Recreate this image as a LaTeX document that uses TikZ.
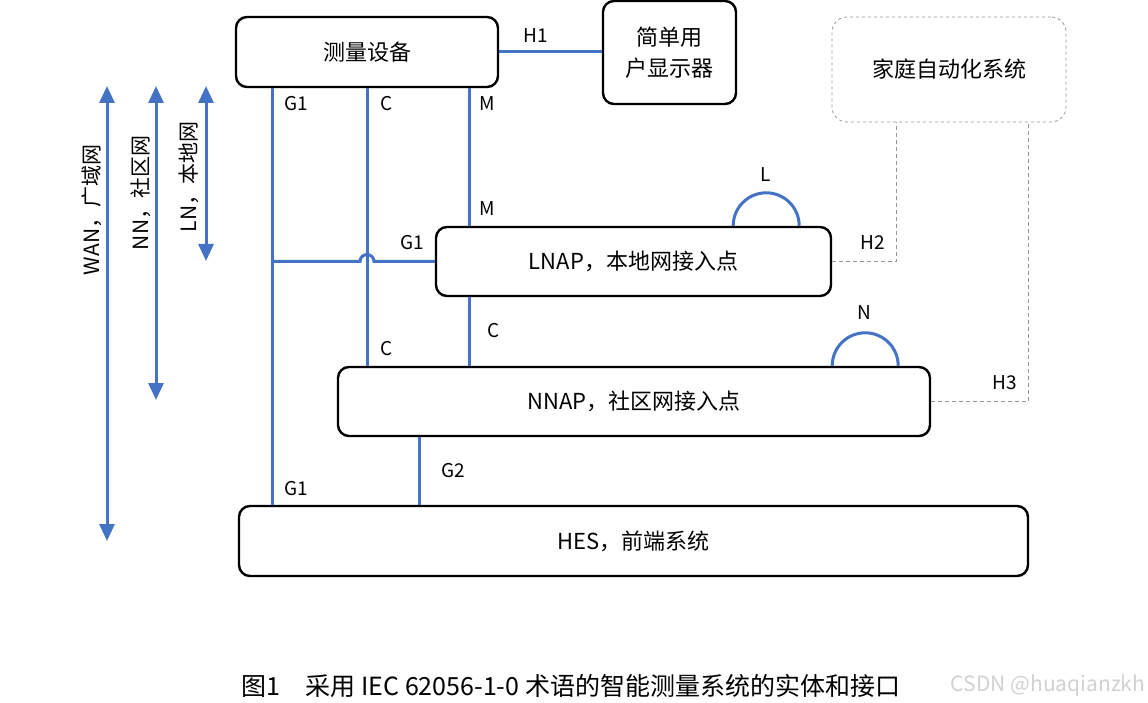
\documentclass[tikz,border=0pt]{standalone}
\usepackage{fontspec}
\setmainfont{Noto Sans CJK SC}
\usetikzlibrary{arrows.meta}
\definecolor{linkcol}{RGB}{68,114,196}
\definecolor{dashcol}{RGB}{150,150,155}

\begin{document}
\begin{tikzpicture}[x=1pt,y=1pt,
  box/.style={draw,line width=2.4pt,rounded corners=11pt,inner sep=0pt,align=center,font=\fontsize{22}{31}\selectfont},
  homebox/.style={draw=dashcol,dashed,line width=0.8pt,rounded corners=15pt,inner sep=0pt,font=\fontsize{22}{30}\selectfont},
  link/.style={linkcol,line width=3pt},
  hlink/.style={dashcol,line width=0.8pt,dash pattern=on 4pt off 3pt},
  span/.style={linkcol,line width=3pt,{Triangle[length=17pt,width=15pt]}-{Triangle[length=17pt,width=15pt]}},
  lbl/.style={font=\fontsize{19}{22}\selectfont},
  net/.style={font=\fontsize{21}{24}\selectfont,rotate=90}]
\useasboundingbox (0,0) rectangle (1148,-703);
% boxes
\node[box,minimum width=262pt,minimum height=70pt] (meter) at (367,-52) {测量设备};
\node[box,minimum width=133pt,minimum height=103pt] (disp) at (669.5,-52.5) {简单用\\户显示器};
\node[homebox,minimum width=234pt,minimum height=105pt] (home) at (949,-69.5) {家庭自动化系统};
\node[box,minimum width=395pt,minimum height=69pt] (lnap) at (633.5,-261.5) {LNAP，本地网接入点};
\node[box,minimum width=592pt,minimum height=69pt] (nnap) at (634,-401.5) {NNAP，社区网接入点};
\node[box,minimum width=789pt,minimum height=70pt] (hes) at (633.5,-541) {HES，前端系统};
% line positions
\coordinate (gx) at (272,0);
\coordinate (mx) at (469,0);
\coordinate (g2x) at (419,0);
% interfaces
\draw[link] (meter.east) -- (meter.east -| disp.west);
\draw[link] (meter.south -| gx) -- (hes.north -| gx);
\draw[link] (meter.south) -- (nnap.north -| meter.south);
\draw[link] (meter.south -| mx) -- (lnap.north -| mx);
\draw[link] (lnap.south -| mx) -- (nnap.north -| mx);
\draw[link] (gx |- lnap.west) -- ([xshift=-7pt]meter.south |- lnap.west) arc[start angle=180,end angle=0,radius=7] -- (lnap.west);
\draw[link] (nnap.south -| g2x) -- (hes.north -| g2x);
\draw[link] ([xshift=-99pt]lnap.north east) arc[start angle=180,end angle=0,radius=33];
\draw[link] ([xshift=-99pt]nnap.north east) arc[start angle=180,end angle=0,radius=33];
\draw[hlink] (lnap.east) -| ([xshift=65pt]home.south west);
\draw[hlink] (nnap.east) -| ([xshift=-38pt]home.south east);
% labels
\node[lbl] (lh1) at (536,-36) {H1};
\node[lbl] (lg1a) at (296,-104) {G1};
\node[lbl] (lca) at (387,-104) {C};
\node[lbl] (lma) at (487,-104) {M};
\node[lbl] (lmb) at (487,-209) {M};
\node[lbl] (lg1b) at (412,-243) {G1};
\node[lbl] (ll) at (766,-175) {L};
\node[lbl] (lh2) at (873,-243) {H2};
\node[lbl] (lcb) at (494,-331) {C};
\node[lbl] (lcc) at (387,-349) {C};
\node[lbl] (ln) at (864,-313) {N};
\node[lbl] (lh3) at (1005,-383) {H3};
\node[lbl] (lg2) at (453,-471) {G2};
\node[lbl] (lg1c) at (296,-489) {G1};
% network ranges
\coordinate (wantop) at (107,-86);
\coordinate (wanbot) at (107,-541);
\coordinate (nntop) at (156,-86);
\coordinate (nnbot) at (156,-400);
\coordinate (lntop) at (206,-86);
\coordinate (lnbot) at (206,-261);
\draw[span] (wantop) -- (wanbot);
\draw[span] (nntop) -- (nnbot);
\draw[span] (lntop) -- (lnbot);
\node[net] (wan) at (92,-210) {WAN，广域网};
\node[net] (nn) at (141,-193) {NN，社区网};
\node[net] (ln) at (189,-177) {LN，本地网};
% caption
\node[font=\fontsize{25}{28}\selectfont] (cap) at (571,-686) {图1\quad 采用 IEC 62056-1-0 术语的智能测量系统的实体和接口};
\node[font=\fontsize{21}{24}\selectfont,text=black!18] (wm) at (1048,-686) {CSDN @huaqianzkh};
\end{tikzpicture}
\end{document}
